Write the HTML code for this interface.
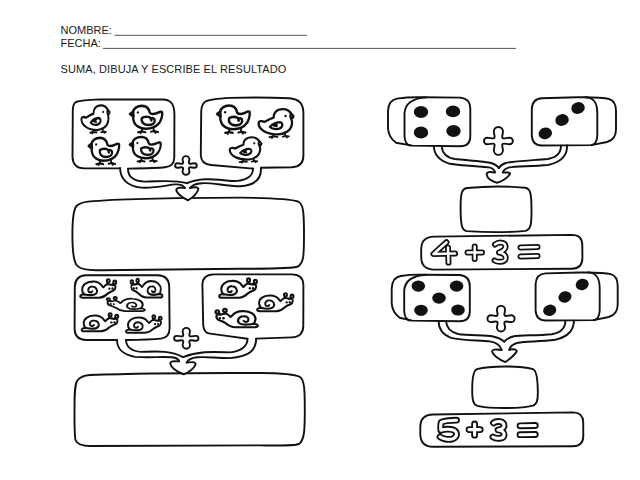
<!DOCTYPE html>
<html><head><meta charset="utf-8"><style>
html,body{margin:0;padding:0;background:#fff;}
body{width:640px;height:480px;overflow:hidden;position:relative;}
svg{position:absolute;left:0;top:0;}
path,ellipse,circle{fill:none;stroke:#111;stroke-width:1.9;stroke-linecap:round;stroke-linejoin:round;}
.sym path,.sym circle{stroke-width:2.35;}
.w{fill:#fff;}
.k{fill:#111;stroke:none;}
.t{font-family:"Liberation Sans",sans-serif;font-size:11px;fill:#1a1a1a;}
</style></head><body>
<svg width="640" height="480" viewBox="0 0 640 480">
<defs><g id="chick" class="sym"><path class="w" d="M0,7.5 L3.2,5.3 C3.6,2.4 7,0 11.9,0 C16,0 19,2.5 19.8,6.3 C21,7.8 24,7.8 27.7,6.3 C29.5,5.5 31.5,5 32.1,6 C32.5,9 31,13.5 29.3,15.5 C27,18.5 22,21 15.8,21 C10,21 5,18 4,14.7 C3.3,12.5 3,11 3.2,9.7 Z"/><path d="M3.2,5.3 L3.6,9.5"/><path d="M11.8,11.4 C11,15 14,17.6 18.4,17.6 C22,17.6 24.7,16 24.7,13.5 C24.7,11.5 22.5,10.8 21.2,11.6 C20.5,12.1 20.6,12.9 21.4,13.3 M21.2,11.6 C19,9.6 14,9.6 11.8,11.4"/><path d="M12.5,21 L11.5,23.5 M8,24.2 L11.5,23.5 L15.5,24.2 M11.5,23.5 L10.5,25 M23.5,21 L24,23.2 M21,23.8 L24,23.2 L28,24 M24,23.2 L25.5,24.8" style="stroke-width:1.9"/><circle class="k" cx="7.9" cy="6" r="1.1"/></g><g id="chickR" class="sym"><path class="w" d="M0.6,14 C0.8,12 3.5,11.5 6.3,12.8 C8.5,12 10,10.5 15.6,8.6 C15.5,6.5 16,4.5 17.5,2.8 C19.5,0.6 22,0 25,0 C29.5,0 32,2.5 33.2,4.5 L35.6,7.2 C35.2,8.5 34.5,9.3 33.4,9.6 C34.2,11.5 34.3,13.5 34,15 C33.5,18.5 32,21 29,22.8 C26,24.8 22.5,25.5 19.7,25.5 C14.5,25.5 10,24.5 6.5,22.5 C3,20.5 0.4,17.5 0.6,14 Z"/><path d="M33.2,4.7 C32.3,6 32.5,8.2 33.4,9.6"/><path d="M12,18 C14.5,15 17.5,13.2 21.8,13.1 C24,13.3 24.8,15.3 24.2,17 C23.2,19.4 20.5,20.2 18,20.1 C15.5,20 13.2,19.2 12,18 Z M18.6,14.9 C16.8,15.3 15.8,15.9 15.9,16.4 C16.5,16.9 17.7,16.9 18.7,17"/><path d="M16,25.3 L15,27.5 M11.5,28.3 L15,27.5 L19.5,28 M15,27.5 L14,29 M27,24.5 L27.5,27 M25,27.8 L27.5,27 L31,27.5 M27.5,27 L29,28.5" style="stroke-width:1.9"/><circle class="k" cx="27.6" cy="6.9" r="1.2"/></g><g id="snail" class="sym"><path d="M9.9,11.2 L7.6,9.0 M15.8,10.6 L14.9,7.6" style="stroke-width:2.6"/><circle class="w" cx="6.8" cy="8.1" r="1.8"/><circle class="w" cx="14.7" cy="6.5" r="1.8"/><path class="w" d="M6,13.7 C5.5,11.5 7.5,10.5 9.9,11.2 C12,10.5 14.5,10 16.3,10.3 C18,11 19.5,12.5 20.6,13.7 C21.5,13.2 22,12.5 22.3,12 C25,8.5 30,7 34.4,7.3 C41,7.5 46.5,11 46.4,16 C46.3,18.5 45.5,20.5 43.5,21.5 C46,21.3 48.8,21.8 48.8,23.3 C48.8,24.8 47,25.2 45.5,25.2 L25.8,25.2 C20.5,24.8 17.5,22.5 15.5,20.6 C12.5,18.5 10,17.8 8.6,17.2 C6.5,16.5 6.1,15 6,13.7 Z"/><path d="M43.5,21.5 C38,22.5 31,22.5 29,20 C27,17 29.5,12.8 34,12.8 C37.5,12.7 39.5,15 39,17.5 C38.5,19.5 35.5,20 34.2,18.2"/><circle class="k" cx="9.5" cy="15" r="1.35"/><circle class="k" cx="13.2" cy="15.1" r="1.35"/></g></defs>
<text class="t" x="60.5" y="34">NOMBRE:</text>
<line x1="114.5" y1="35.3" x2="307" y2="35.3" stroke="#555" stroke-width="1"/>
<text class="t" x="60.5" y="47">FECHA:</text>
<line x1="103" y1="48.4" x2="516" y2="48.4" stroke="#555" stroke-width="1"/>
<text class="t" x="60.5" y="72.5" letter-spacing="0.1">SUMA, DIBUJA Y ESCRIBE EL RESULTADO</text>
<path d="M128,168.6 C145,168.3 160,167.8 165,167.2 Q174.3,166.5 174.3,157 L174.4,114 C174.2,106 172.5,100.5 164,99.5 L100,99.4 C88,99.8 79,100.8 76,102 Q73,103.8 72.8,110 L72.5,157 Q73,168.2 84,168.4 L120,168.4"/>
<path d="M261,167.8 L292,167.2 Q303.3,166.6 303.4,156 L303.4,113 C303.2,104 300,99 289,98.2 C270,97.3 245,97.4 230,97.9 C218,98.6 209,99.5 205.5,101.5 Q201.4,104 201.2,112 L200.8,155 Q201,164.2 211,165 Q235,167 253,168.6"/>
<path d="M120,168 C120.5,179 127,186 141,187.6 C155,188.6 168,184.8 175,184.4 C180,184.2 184,186 185,188.1"/>
<path d="M128,168.8 C128,176 132,181.3 145,181.6 C160,181.4 175,179.6 187,183.2"/>
<path d="M253,168.4 C253.5,177 244,181.5 232,181 C218,180 202,176.5 187,183.2"/>
<path d="M261,167.8 C261.5,180 254,185.5 240,186.3 C225,186 212,182.5 202,183.2 C196,183.5 192.5,184.5 190,188.1"/>
<path d="M88,201.6 C120,198.6 170,197.8 240,197.6 C275,198 292,199.5 298,201.5 C303.5,204 304,212 304,235 C304,257 303.5,263 298,266.5 C291,269 265,268.6 240,268.8 L100,270.2 C88,270.6 80,269.4 76.5,265 C72.6,259 72.4,245 72.4,235 C72.4,220 73,210 76.5,206 C79.5,203 83,202.2 88,201.6 Z"/>
<path class="w" d="M185,188.1 C183,187.6 180,187.5 179.4,187.8 C177,188.2 176,189 176.25,189.9 C176.5,193 182,197.5 188.1,200.3 C192,198 197,194 198.4,189 C198.5,188 197,187.2 195.6,187.2 C193.5,187.2 191.5,187.5 190,188.1"/>
<path class="w" d="M183.17,162.16 C183.17,161.27 182.55,160.75 182.55,159.60 A3.45,3.45 0 0 1 189.45,159.60 C189.45,160.75 188.83,161.27 188.83,162.16 Q188.83,163.76 190.43,163.76 C191.86,163.76 192.67,163.25 194.50,163.25 A2.25,2.25 0 0 1 194.50,167.75 C192.67,167.75 191.86,167.24 190.43,167.24 Q188.83,167.24 188.83,168.84 C188.83,169.73 189.45,170.25 189.45,171.40 A3.45,3.45 0 0 1 182.55,171.40 C182.55,170.25 183.17,169.73 183.17,168.84 Q183.17,167.24 181.57,167.24 C180.11,167.24 179.27,167.75 177.40,167.75 A2.25,2.25 0 0 1 177.40,163.25 C179.27,163.25 180.11,163.76 181.57,163.76 Q183.17,163.76 183.17,162.16 Z"/>
<path d="M125.8,340 C140,339.8 155,339.2 161,338.6 Q169.5,337.8 169.6,328 L169.2,286 Q168.6,275.6 158,275.2 L86,275.3 Q75,275.8 74.8,287 L74.6,329 Q74.8,339.8 86,340 L117,340"/>
<path d="M256,338.6 L292,337.4 Q303.2,336.8 303.3,326 L303.4,285 Q303.2,274.6 292,274.4 L214,274.4 Q202.4,274.6 202.4,285 L203.2,325 Q203.8,333 210,333.6 Q228,336 247.5,338.8"/>
<path d="M117,340 C117,348 121,354 135,356.9 C150,357.8 162,356.5 172,357.2 C176,357.6 178.5,359 179.1,361.4"/>
<path d="M126,340.5 C126.5,346 130,351 141,351.9 C155,351.5 170,350 183,357.1"/>
<path d="M247.5,339 C247.5,346 241,351.5 230,352.4 C215,352 200,350.5 183,357.1"/>
<path d="M256.2,338.6 C256,350 250,356.5 230,358.1 C215,358 205,356.5 197,357.3 C192,357.8 188.5,359.5 186.6,362.7"/>
<path d="M90,375 C130,373.5 200,372.8 260,373 C285,373.2 296,374.6 300,377 C304.5,380 304.8,390 304.8,410 C304.8,430 304.5,440 299,444 C294,446 280,445.6 260,445.4 L90,446 C81,446 77,444 75.5,440 C74.4,436 74.5,425 74.5,410 C74.5,395 74.5,386 77,381 C79.5,377 84,375.4 90,375 Z"/>
<path class="w" d="M179.1,361.4 C176,361.2 173.5,361.2 172.5,361.4 C171,361.8 170.2,362.6 170.3,363.6 C170.8,367 176,371.5 183.75,374.25 C188,372.5 193.5,369 195.6,364.6 C195.8,363 194.5,362.1 192.5,362.1 C190,362.1 188,362.3 186.6,362.7"/>
<path class="w" d="M183.29,334.79 C183.29,333.64 182.65,332.98 182.65,331.50 A3.65,3.65 0 0 1 189.95,331.50 C189.95,332.98 189.31,333.64 189.31,334.79 Q189.31,336.39 190.91,336.39 C192.69,336.39 193.71,335.85 196.00,335.85 A2.45,2.45 0 0 1 196.00,340.75 C193.71,340.75 192.69,340.21 190.91,340.21 Q189.31,340.21 189.31,341.81 C189.31,342.96 189.95,343.62 189.95,345.10 A3.65,3.65 0 0 1 182.65,345.10 C182.65,343.62 183.29,342.96 183.29,341.81 Q183.29,340.21 181.69,340.21 C179.91,340.21 178.89,340.75 176.60,340.75 A2.45,2.45 0 0 1 176.60,335.85 C178.89,335.85 179.91,336.39 181.69,336.39 Q183.29,336.39 183.29,334.79 Z"/>
<path d="M422.5,97.3 L460.3,97.6 Q470.3,98.5 470.3,109 L470.3,136.2 Q470.3,146.2 460.3,146.2 L412.5,145.6 L396,142.7 Q388.5,137.2 388,128.2 L388,111 Q388.5,100 397,98.6 Q408,97 422.5,97.3 Z"/><path d="M426.5,97.4 C416.5,98 405.5,101 404.5,113 L404.5,136.2 Q405.0,144.7 410.5,145.6"/>
<ellipse class="k" cx="421" cy="112" rx="7.2" ry="5.9" transform="rotate(0 421 112)"/>
<ellipse class="k" cx="453" cy="111.4" rx="7.2" ry="5.9" transform="rotate(0 453 111.4)"/>
<ellipse class="k" cx="421" cy="132.5" rx="7.2" ry="5.9" transform="rotate(0 421 132.5)"/>
<ellipse class="k" cx="453.5" cy="131" rx="7.2" ry="5.9" transform="rotate(0 453.5 131)"/>
<path d="M541.8,98.2 L577.3,97.3 Q602,97 609,99 Q616,101 616,111 L616,129.5 Q616,139.5 607,142.0 L591.3,145.1 L541.8,145.5 Q532.3,145.5 531.8,135.5 L531.8,109 Q532.3,98.6 541.8,98.2 Z"/><path d="M585.3,97.2 C594.3,97.5 597.3,103 597.3,113 L597.3,135.5 Q596.8,144.5 591.3,145.2"/>
<ellipse class="k" cx="578" cy="108" rx="6.8" ry="5.8" transform="rotate(-15 578 108)"/>
<ellipse class="k" cx="562" cy="120" rx="6.8" ry="5.8" transform="rotate(-15 562 120)"/>
<ellipse class="k" cx="545.3" cy="133.4" rx="6.8" ry="5.8" transform="rotate(-15 545.3 133.4)"/>
<path d="M433.8,146 C434,153 437,160 450,163.8 C465,166 480,166.5 488.9,167.4 C492,168 494.5,170 495.1,172.5"/>
<path d="M441.7,146 C442,152 446,157.5 455,159 C470,160.5 486,161.5 491.1,163 C495,164.2 497.5,166 498.8,168.1"/>
<path d="M561,145.6 C561,152 557,157.5 548,159 C530,160.5 511,161.5 505.7,163 C502,164.2 500,166 498.8,168.1"/>
<path d="M567,145.4 C567.5,155 562,162 548,165 C530,166.5 515,166 509.3,167.4 C505.5,168.3 503.5,170 502.8,172.5"/>
<path class="w" d="M495.1,172.5 C492.5,172.2 490,172 488.9,172.1 C487.3,172.4 486.6,173.3 486.7,174.3 C487,178 491.5,181.5 497,182.7 C501,182 508,178 510.1,173.6 C510.2,172.9 509.2,172.5 507.9,172.5 C506,172.5 504,172.5 502.8,172.5"/>
<path class="w" d="M494.62,136.82 C494.62,134.96 493.85,133.89 493.85,131.50 A4.55,4.55 0 0 1 502.95,131.50 C502.95,133.89 502.18,134.96 502.18,136.82 Q502.18,138.42 503.78,138.42 C505.82,138.42 506.98,137.75 509.60,137.75 A3.25,3.25 0 0 1 509.60,144.25 C506.98,144.25 505.82,143.58 503.78,143.58 Q502.18,143.58 502.18,145.18 C502.18,146.97 502.95,148.00 502.95,150.30 A4.55,4.55 0 0 1 493.85,150.30 C493.85,148.00 494.62,146.97 494.62,145.18 Q494.62,143.58 493.02,143.58 C490.98,143.58 489.82,144.25 487.20,144.25 A3.25,3.25 0 0 1 487.20,137.75 C489.82,137.75 490.98,138.42 493.02,138.42 Q494.62,138.42 494.62,136.82 Z"/>
<path d="M467,188 C485,186.3 510,186.3 525,187.8 C530.5,188.6 531.4,193 531.5,209 C531.6,224 531,229.6 525.5,230.9 C510,232.3 485,232.3 467,231.1 C462,230.4 460.7,226 460.6,209 C460.5,193 461.8,188.8 467,188 Z"/>
<path d="M434,236.6 L572,234.9 Q582.2,235 582.3,245 L582.4,258 Q582.3,268.6 572,268.7 L434,269.6 Q421.3,269.4 421.2,257 L421.2,249 Q421.4,236.8 434,236.6 Z"/>
<path d="M422.2,274.7 L459.8,275.0 Q469.8,275.9 469.8,286.4 L469.8,311.2 Q469.8,321.2 459.8,321.2 L412.2,320.59999999999997 L399.7,317.7 Q392.2,312.2 391.7,303.2 L391.7,288.4 Q392.2,277.4 400.7,276.0 Q411.7,274.4 422.2,274.7 Z"/><path d="M426.2,274.79999999999995 C416.2,275.4 405.2,278.4 404.2,290.4 L404.2,311.2 Q404.7,319.7 410.2,320.59999999999997"/>
<ellipse class="k" cx="418.3" cy="286.1" rx="6.8" ry="5.6" transform="rotate(0 418.3 286.1)"/>
<ellipse class="k" cx="456.6" cy="286.1" rx="6.8" ry="5.6" transform="rotate(0 456.6 286.1)"/>
<ellipse class="k" cx="439" cy="298.1" rx="6.8" ry="5.6" transform="rotate(0 439 298.1)"/>
<ellipse class="k" cx="421" cy="310.3" rx="6.8" ry="5.6" transform="rotate(0 421 310.3)"/>
<ellipse class="k" cx="458" cy="310" rx="6.8" ry="5.6" transform="rotate(0 458 310)"/>
<path d="M545.6,273.4 L579.7,272.5 Q603.7,272.2 610.7,274.2 Q617.7,276.2 617.7,286.2 L617.7,304.5 Q617.7,314.5 608.7,317.0 L593.7,320.1 L545.6,320.5 Q536.1,320.5 535.6,310.5 L535.6,284.2 Q536.1,273.8 545.6,273.4 Z"/><path d="M587.7,272.4 C596.7,272.7 599.7,278.2 599.7,288.2 L599.7,310.5 Q599.2,319.5 593.7,320.2"/>
<ellipse class="k" cx="582.2" cy="284.5" rx="6.6" ry="5.6" transform="rotate(-15 582.2 284.5)"/>
<ellipse class="k" cx="565" cy="297" rx="6.6" ry="5.6" transform="rotate(-15 565 297)"/>
<ellipse class="k" cx="549.7" cy="310.3" rx="6.6" ry="5.6" transform="rotate(-15 549.7 310.3)"/>
<path d="M438.6,321 C438.6,327 441,334 451,337.8 C462,340.5 480,340.2 490,341.4 C495,342.2 500,345 501.7,350"/>
<path d="M446,321 C446.5,327 450,332 458,334 C470,335.8 485,334.8 493,336.5 C498,337.6 502,339.5 504.2,341.7"/>
<path d="M565.3,320.8 C565.5,328 561,332.5 552,334.2 C535,335.8 520,334.8 513,336.5 C509,337.6 506,339.5 504.2,341.7"/>
<path d="M574,320.6 C573.5,330 569,336.5 555,339.8 C540,341.8 525,341.2 518,342.8 C513,344 510,346.5 509.2,350"/>
<path class="w" d="M501.7,350 C499,349.6 496.5,349.5 495,349.6 C493,349.8 492,350.6 492.1,351.7 C493,355 499,360 505.4,362.1 C509,359.5 515,355 516.7,351.25 C516.8,350 515,349.2 513.3,349.2 C511.5,349.2 510,349.5 509.2,350"/>
<path class="w" d="M497.65,314.35 C497.65,312.80 496.95,311.90 496.95,309.90 A4.05,4.05 0 0 1 505.05,309.90 C505.05,311.90 504.35,312.80 504.35,314.35 Q504.35,315.95 505.95,315.95 C507.79,315.95 508.84,315.25 511.20,315.25 A3.45,3.45 0 0 1 511.20,322.15 C508.84,322.15 507.79,321.45 505.95,321.45 Q504.35,321.45 504.35,323.05 C504.35,324.60 505.05,325.50 505.05,327.50 A4.05,4.05 0 0 1 496.95,327.50 C496.95,325.50 497.65,324.60 497.65,323.05 Q497.65,321.45 496.05,321.45 C494.25,321.45 493.22,322.15 490.90,322.15 A3.45,3.45 0 0 1 490.90,315.25 C493.22,315.25 494.25,315.95 496.05,315.95 Q497.65,315.95 497.65,314.35 Z"/>
<path d="M477,369.2 C490,365.6 520,365.6 533,369.2 C536.6,370.6 537.6,380 537.8,390 C538,400 537.2,404.2 533,405.6 C520,408.8 490,408.8 477.5,405.8 C473.2,404.5 472.2,400 472.2,390 C472.2,380 473,370.6 477,369.2 Z"/>
<path d="M433,414.5 L573,412.4 Q583,412.6 583.2,422 L583.3,436 Q583.2,446.2 573,446.2 L433,446.8 Q420.4,446.6 420.3,434 L420.3,427 Q420.4,414.6 433,414.5 Z"/>
<use href="#chickR" transform="translate(80.90,105.27) scale(0.809,0.971)"/>
<use href="#chick" transform="translate(129.91,105.88) scale(1.006,1.087)"/>
<use href="#chick" transform="translate(88.61,137.88) scale(0.951,1.085)"/>
<use href="#chick" transform="translate(129.77,137.01) scale(0.962,1.012)"/>
<use href="#chick" transform="translate(217.02,105.52) scale(1.018,1.131)"/>
<use href="#chickR" transform="translate(258.00,109.19) scale(0.997,0.990)"/>
<use href="#chickR" transform="translate(229.25,137.28) scale(0.906,0.876)"/>
<use href="#snail" transform="translate(120.37,274.96) scale(-0.823,0.906)"/>
<use href="#snail" transform="translate(126.90,274.54) scale(0.731,0.911)"/>
<use href="#snail" transform="translate(102.45,293.67) scale(0.867,0.692)"/>
<use href="#snail" transform="translate(122.42,309.16) scale(-0.834,0.879)"/>
<use href="#snail" transform="translate(165.85,311.38) scale(-0.816,0.848)"/>
<use href="#snail" transform="translate(261.23,274.02) scale(-0.862,0.942)"/>
<use href="#snail" transform="translate(297.71,289.06) scale(-0.832,0.879)"/>
<use href="#snail" transform="translate(210.74,304.57) scale(0.965,0.902)"/>
<path d="M446.5,242.3 L433.5,254 L455,253.6 M448,247.5 L448.5,262.6 M467.5,252.5 L482,252.5 M474.7,246.5 L474.7,259 M495,244.5 C498,242 505,241.5 505.5,246 C506,249.5 502,251.5 499,252.5 C503,253 506.5,255 505.5,259 C504.5,262.5 498,262.5 494.5,260.5 M520.5,247.5 L537.5,247 M520.5,256.5 L537.5,256" style="stroke:#111;stroke-width:6.0"/><path d="M446.5,242.3 L433.5,254 L455,253.6 M448,247.5 L448.5,262.6 M467.5,252.5 L482,252.5 M474.7,246.5 L474.7,259 M495,244.5 C498,242 505,241.5 505.5,246 C506,249.5 502,251.5 499,252.5 C503,253 506.5,255 505.5,259 C504.5,262.5 498,262.5 494.5,260.5 M520.5,247.5 L537.5,247 M520.5,256.5 L537.5,256" style="stroke:#fff;stroke-width:2.5"/>
<path d="M456.5,420.2 C452,420.3 444.5,420.8 441.2,422.3 C440.6,425 440.6,428 440.9,430.2 C445,428.8 452,428.8 455,430.8 C457.3,432.8 457.2,437 453,438.7 C448,440.3 442.5,438.8 440,436.8 M469,429.6 L480.2,429.6 M474.6,424 L474.6,435.2 M493.5,423 C496,421 503.5,420.5 504,425 C504.5,428 501,429.5 498,430 C502,430.5 504.5,432 504,435.5 C503.5,439 496,439 493,437 M520,425.8 L535.3,425.5 M520,434.7 L535.3,434.5" style="stroke:#111;stroke-width:6.8"/><path d="M456.5,420.2 C452,420.3 444.5,420.8 441.2,422.3 C440.6,425 440.6,428 440.9,430.2 C445,428.8 452,428.8 455,430.8 C457.3,432.8 457.2,437 453,438.7 C448,440.3 442.5,438.8 440,436.8 M469,429.6 L480.2,429.6 M474.6,424 L474.6,435.2 M493.5,423 C496,421 503.5,420.5 504,425 C504.5,428 501,429.5 498,430 C502,430.5 504.5,432 504,435.5 C503.5,439 496,439 493,437 M520,425.8 L535.3,425.5 M520,434.7 L535.3,434.5" style="stroke:#fff;stroke-width:3.1"/>
</svg>
</body></html>
